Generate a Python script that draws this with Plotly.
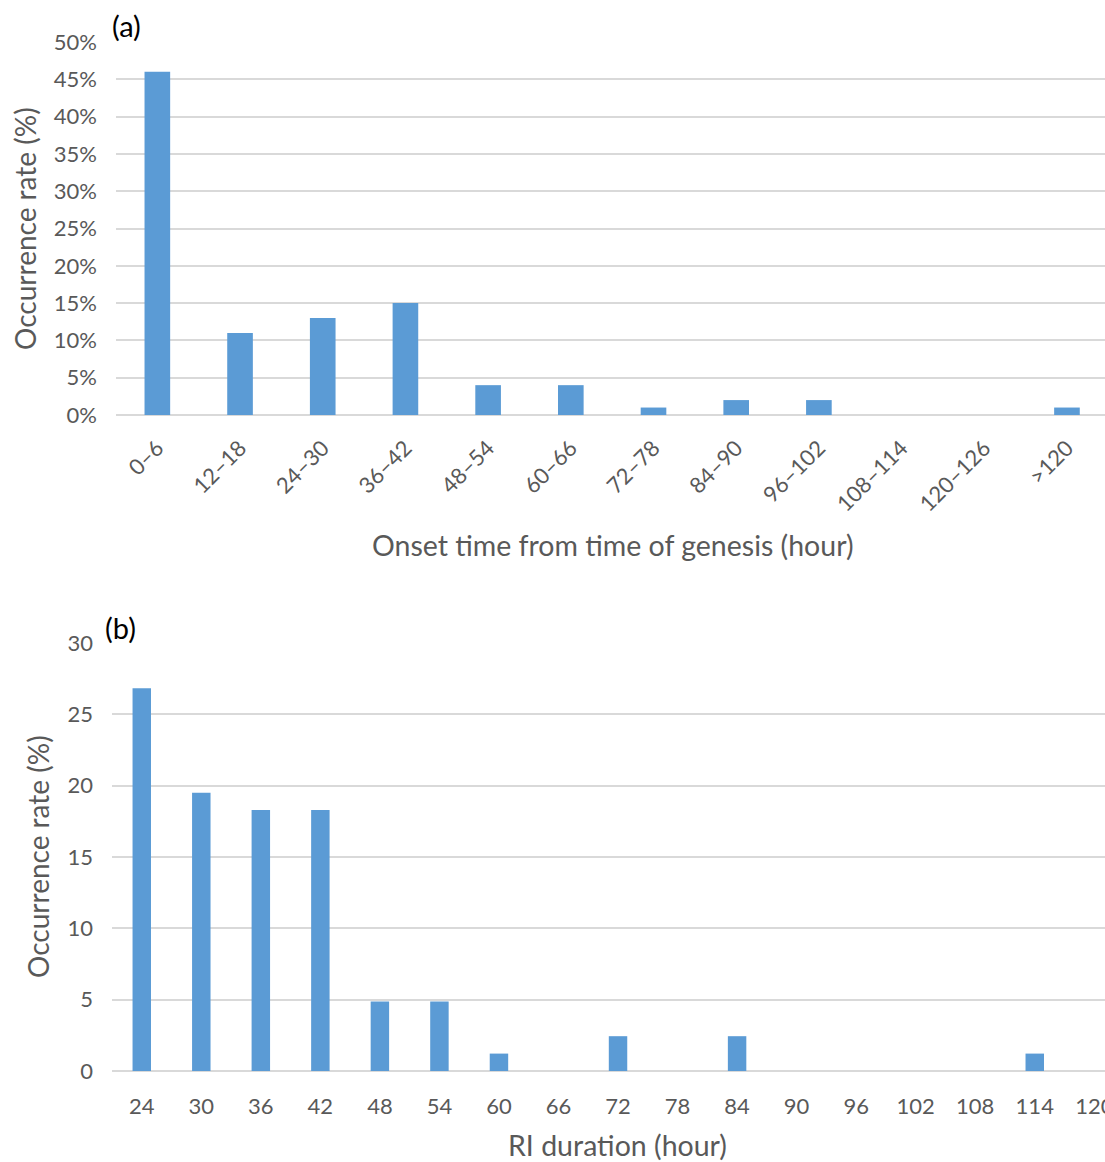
import plotly.graph_objects as go
from plotly.subplots import make_subplots

# (a) onset time of rapid intensification, counted from genesis
onset_bins = ["0–6", "12–18", "24–30", "36–42", "48–54", "60–66",
              "72–78", "84–90", "96–102", "108–114", "120–126", ">120"]
onset_rate = [46, 11, 13, 15, 4, 4, 1, 2, 2, 0, 0, 1]

# (b) duration of rapid intensification
duration_hours = ["24", "30", "36", "42", "48", "54", "60", "66", "72",
                  "78", "84", "90", "96", "102", "108", "114", "120"]
duration_rate = [26.83, 19.51, 18.29, 18.29, 4.88, 4.88, 1.22, 0, 2.44,
                 0, 2.44, 0, 0, 0, 0, 1.22, 0]

W, H = 1105, 1162
BAR = "#5b9bd5"
GRID = "#d9d9d9"
TICK = "#595959"
FONT = "Lato, 'Open Sans', sans-serif"

fig = make_subplots(rows=2, cols=1)

fig.add_trace(go.Bar(x=onset_bins, y=onset_rate, marker_color=BAR,
                     marker_line_width=0, showlegend=False), row=1, col=1)
fig.add_trace(go.Bar(x=duration_hours, y=duration_rate, marker_color=BAR,
                     marker_line_width=0, showlegend=False), row=2, col=1)


def px_x(v):
    return v / W


def px_y(v):
    return 1 - v / H


common_y = dict(showgrid=True, gridcolor=GRID, gridwidth=1.5, zeroline=True,
                zerolinecolor=GRID, zerolinewidth=1.5, showline=False,
                ticks="", ticklabelstandoff=18, automargin=False,
                tickfont=dict(family=FONT, size=22, color=TICK))
common_x = dict(showgrid=False, zeroline=False, showline=False, ticks="",
                automargin=False,
                tickfont=dict(family=FONT, size=22, color=TICK))

fig.update_layout(
    width=W, height=H,
    margin=dict(l=0, r=0, t=0, b=0),
    paper_bgcolor="white", plot_bgcolor="white",
    bargap=0.69,
    font=dict(family=FONT, color=TICK),
    xaxis=dict(common_x, domain=[px_x(116), 1], range=[-0.5, 11.46],
               tickangle=-45, ticklabelstandoff=15),
    yaxis=dict(common_y, domain=[px_y(415), px_y(42)], range=[0, 50],
               dtick=5, ticksuffix="%"),
    xaxis2=dict(common_x, domain=[px_x(112), 1], range=[-0.5, 16.18],
                ticklabelstandoff=20),
    yaxis2=dict(common_y, domain=[px_y(1071), px_y(643)], range=[0, 30],
                dtick=5),
)

annotations = [
    dict(text="(a)", x=px_x(110), y=px_y(26), xanchor="left", yanchor="middle",
         font=dict(family=FONT, size=29, color="black")),
    dict(text="(b)", x=px_x(103), y=px_y(627), xanchor="left", yanchor="middle",
         font=dict(family=FONT, size=29, color="black")),
    dict(text="Onset time from time of genesis (hour)", x=px_x(613), y=px_y(545),
         xanchor="center", yanchor="middle",
         font=dict(family=FONT, size=28.5, color=TICK)),
    dict(text="RI duration (hour)", x=px_x(617), y=px_y(1145),
         xanchor="center", yanchor="middle",
         font=dict(family=FONT, size=28.5, color=TICK)),
    dict(text="Occurrence rate (%)", x=px_x(25), y=px_y(229), textangle=-90,
         xanchor="center", yanchor="middle",
         font=dict(family=FONT, size=28, color=TICK)),
    dict(text="Occurrence rate (%)", x=px_x(38), y=px_y(857), textangle=-90,
         xanchor="center", yanchor="middle",
         font=dict(family=FONT, size=28, color=TICK)),
]
for a in annotations:
    a.update(xref="paper", yref="paper", showarrow=False)
fig.update_layout(annotations=annotations)

fig.write_html("out.html")
